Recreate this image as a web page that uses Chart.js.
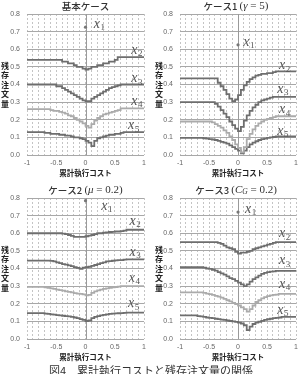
<!DOCTYPE html>
<html>
<head>
<meta charset="utf-8">
<script src="https://cdn.jsdelivr.net/npm/chart.js@4"></script>
<style>
  body { margin: 0; background: #fff; width: 302px; height: 374px; overflow: hidden; position: relative; }
  canvas { position: absolute; }
  #caption { position: absolute; left: 0; top: 362px; width: 302px; text-align: center;
    font: 11px "Noto Sans CJK JP", sans-serif; color: #333; white-space: nowrap; }
</style>
</head>
<body>
<canvas id="c0" width="151" height="184" style="left:0;top:0"></canvas>
<canvas id="c1" width="151" height="184" style="left:151px;top:0"></canvas>
<canvas id="c2" width="151" height="184" style="left:0;top:184px"></canvas>
<canvas id="c3" width="151" height="184" style="left:151px;top:184px"></canvas>
<div id="caption">図4　累計執行コストと残存注文量の関係</div>
<script>
// cumulative execution cost (x axis), one step every 0.05
const cost = [-1, -0.95, -0.9, -0.85, -0.8, -0.75, -0.7, -0.65, -0.6, -0.55, -0.5, -0.45, -0.4, -0.35, -0.3, -0.25, -0.2, -0.15, -0.1, -0.05,
  0, 0.05, 0.1, 0.15, 0.2, 0.25, 0.3, 0.35, 0.4, 0.45, 0.5, 0.55, 0.6, 0.65, 0.7, 0.75, 0.8, 0.85, 0.9, 0.95, 1];

// 基本ケース
const baseX2 = [0.54, 0.54, 0.54, 0.54, 0.54, 0.54, 0.54, 0.54, 0.54, 0.54, 0.54, 0.54, 0.53, 0.53, 0.52, 0.52, 0.51, 0.50, 0.50, 0.49,
  0.485, 0.49, 0.50, 0.50, 0.51, 0.51, 0.52, 0.52, 0.53, 0.53, 0.54, 0.555, 0.555, 0.555, 0.555, 0.555, 0.555, 0.555, 0.555, 0.555, 0.555];
const baseX3 = [0.40, 0.40, 0.40, 0.40, 0.40, 0.40, 0.40, 0.40, 0.40, 0.40, 0.39, 0.39, 0.38, 0.37, 0.36, 0.35, 0.34, 0.33, 0.32, 0.31,
  0.305, 0.305, 0.32, 0.33, 0.34, 0.35, 0.36, 0.37, 0.38, 0.385, 0.39, 0.395, 0.40, 0.40, 0.40, 0.40, 0.40, 0.40, 0.40, 0.40, 0.40];
const baseX4 = [0.26, 0.26, 0.26, 0.26, 0.26, 0.26, 0.26, 0.26, 0.255, 0.25, 0.25, 0.245, 0.24, 0.235, 0.225, 0.22, 0.21, 0.20, 0.19, 0.18,
  0.165, 0.155, 0.175, 0.195, 0.21, 0.22, 0.23, 0.235, 0.24, 0.245, 0.25, 0.255, 0.265, 0.265, 0.265, 0.265, 0.265, 0.265, 0.265, 0.265, 0.265];
const baseX5 = [0.13, 0.13, 0.13, 0.13, 0.13, 0.13, 0.125, 0.125, 0.12, 0.12, 0.12, 0.115, 0.115, 0.11, 0.11, 0.105, 0.10, 0.10, 0.095, 0.09,
  0.08, 0.07, 0.05, 0.08, 0.095, 0.10, 0.105, 0.11, 0.115, 0.115, 0.12, 0.12, 0.125, 0.13, 0.13, 0.13, 0.13, 0.13, 0.13, 0.13, 0.13];

// ケース1 (gamma = 5)
const c1X2 = [0.435, 0.435, 0.435, 0.435, 0.435, 0.435, 0.435, 0.435, 0.435, 0.435, 0.435, 0.435, 0.435, 0.41, 0.39, 0.37, 0.345, 0.32, 0.305, 0.315,
  0.34, 0.37, 0.395, 0.415, 0.43, 0.44, 0.45, 0.455, 0.46, 0.46, 0.465, 0.465, 0.47, 0.475, 0.475, 0.475, 0.475, 0.475, 0.475, 0.475, 0.475];
const c1X3 = [0.30, 0.30, 0.30, 0.30, 0.30, 0.30, 0.30, 0.30, 0.30, 0.30, 0.30, 0.30, 0.29, 0.275, 0.255, 0.235, 0.215, 0.19, 0.17, 0.15,
  0.135, 0.16, 0.195, 0.225, 0.25, 0.27, 0.285, 0.30, 0.31, 0.315, 0.32, 0.325, 0.33, 0.33, 0.33, 0.33, 0.33, 0.33, 0.33, 0.33, 0.33];
const c1X4 = [0.19, 0.19, 0.19, 0.19, 0.19, 0.19, 0.19, 0.19, 0.19, 0.19, 0.19, 0.185, 0.175, 0.165, 0.155, 0.14, 0.125, 0.105, 0.085, 0.06,
  0.04, 0.015, 0.045, 0.09, 0.12, 0.145, 0.165, 0.18, 0.19, 0.20, 0.205, 0.21, 0.215, 0.22, 0.22, 0.22, 0.22, 0.22, 0.22, 0.22, 0.22];
const c1X5 = [0.097, 0.097, 0.097, 0.097, 0.097, 0.097, 0.097, 0.097, 0.095, 0.093, 0.09, 0.088, 0.085, 0.08, 0.075, 0.07, 0.065, 0.055, 0.045, 0.035,
  0.025, 0.01, 0.025, 0.045, 0.06, 0.07, 0.078, 0.085, 0.09, 0.093, 0.097, 0.10, 0.102, 0.105, 0.105, 0.105, 0.105, 0.105, 0.105, 0.105, 0.105];

// ケース2 (mu = 0.2)
const c2X2 = [0.60, 0.60, 0.60, 0.60, 0.60, 0.60, 0.60, 0.60, 0.60, 0.60, 0.60, 0.60, 0.598, 0.595, 0.59, 0.585, 0.58, 0.58, 0.58, 0.58,
  0.583, 0.587, 0.59, 0.595, 0.60, 0.60, 0.603, 0.605, 0.607, 0.608, 0.61, 0.61, 0.612, 0.615, 0.62, 0.62, 0.62, 0.62, 0.62, 0.62, 0.62];
const c2X3 = [0.445, 0.445, 0.445, 0.445, 0.445, 0.445, 0.445, 0.445, 0.443, 0.44, 0.435, 0.43, 0.425, 0.422, 0.418, 0.413, 0.408, 0.403, 0.398, 0.405,
  0.408, 0.41, 0.415, 0.42, 0.425, 0.43, 0.435, 0.44, 0.442, 0.444, 0.446, 0.447, 0.448, 0.45, 0.452, 0.452, 0.452, 0.452, 0.452, 0.452, 0.452];
const c2X4 = [0.296, 0.296, 0.296, 0.296, 0.296, 0.296, 0.293, 0.29, 0.287, 0.284, 0.28, 0.277, 0.274, 0.27, 0.267, 0.264, 0.26, 0.258, 0.256, 0.253,
  0.247, 0.25, 0.262, 0.27, 0.276, 0.28, 0.284, 0.287, 0.29, 0.293, 0.295, 0.297, 0.30, 0.30, 0.30, 0.30, 0.30, 0.30, 0.30, 0.30, 0.30];
const c2X5 = [0.147, 0.147, 0.147, 0.147, 0.147, 0.147, 0.144, 0.142, 0.14, 0.138, 0.136, 0.134, 0.132, 0.13, 0.128, 0.125, 0.122, 0.118, 0.113, 0.108,
  0.102, 0.105, 0.118, 0.125, 0.13, 0.134, 0.137, 0.14, 0.142, 0.144, 0.145, 0.146, 0.147, 0.148, 0.15, 0.15, 0.15, 0.15, 0.15, 0.15, 0.15];

// ケース3 (C_G = 0.2)
const c3X2 = [0.55, 0.55, 0.55, 0.55, 0.55, 0.55, 0.55, 0.55, 0.55, 0.55, 0.55, 0.55, 0.55, 0.545, 0.54, 0.53, 0.52, 0.515, 0.51, 0.495,
  0.485, 0.49, 0.49, 0.495, 0.50, 0.51, 0.515, 0.52, 0.525, 0.53, 0.535, 0.54, 0.545, 0.55, 0.55, 0.55, 0.55, 0.55, 0.55, 0.55, 0.55];
const c3X3 = [0.407, 0.407, 0.407, 0.407, 0.407, 0.407, 0.407, 0.407, 0.405, 0.40, 0.398, 0.393, 0.388, 0.38, 0.372, 0.365, 0.355, 0.345, 0.34, 0.33,
  0.32, 0.31, 0.30, 0.31, 0.325, 0.34, 0.35, 0.36, 0.37, 0.375, 0.38, 0.382, 0.384, 0.386, 0.386, 0.386, 0.386, 0.386, 0.386, 0.386, 0.386];
const c3X4 = [0.265, 0.265, 0.265, 0.265, 0.265, 0.265, 0.265, 0.265, 0.262, 0.258, 0.255, 0.25, 0.245, 0.24, 0.235, 0.228, 0.22, 0.213, 0.205, 0.198,
  0.19, 0.18, 0.17, 0.155, 0.17, 0.19, 0.21, 0.22, 0.23, 0.238, 0.243, 0.248, 0.25, 0.252, 0.256, 0.256, 0.256, 0.256, 0.256, 0.256, 0.256];
const c3X5 = [0.134, 0.134, 0.134, 0.134, 0.134, 0.134, 0.13, 0.128, 0.125, 0.122, 0.12, 0.118, 0.115, 0.113, 0.11, 0.108, 0.105, 0.102, 0.10, 0.097,
  0.093, 0.088, 0.078, 0.05, 0.07, 0.085, 0.093, 0.098, 0.103, 0.108, 0.112, 0.115, 0.118, 0.12, 0.122, 0.126, 0.126, 0.126, 0.126, 0.126, 0.126];

// x1 is a single point at zero cost
const x1Values = [0.725, 0.625, 0.785, 0.72];

const yAxisLabel = '残存注文量';
const xAxisLabel = '累計執行コスト';

const SANS = '"Noto Sans CJK JP", sans-serif';
const SERIF = '"Liberation Serif", "DejaVu Serif", serif';
const DARK = '#6e6e6e';
const LIGHT = '#ababab';

// title pieces: [text, font, dy]
const titles = [
  [['基本ケース', '500 9.5px ' + SANS, 0]],
  [['ケース1 ', '500 9.5px ' + SANS, 0], ['(', '11px ' + SERIF, 0], ['γ', 'italic 11px ' + SERIF, 0], [' = 5)', '11px ' + SERIF, 0]],
  [['ケース2 ', '500 9.5px ' + SANS, 0], ['(', '11px ' + SERIF, 0], ['μ', 'italic 11px ' + SERIF, 0], [' = 0.2)', '11px ' + SERIF, 0]],
  [['ケース3 ', '500 9.5px ' + SANS, 0], ['(', '11px ' + SERIF, 0], ['C', 'italic 11px ' + SERIF, 0], ['G', 'italic 7.5px ' + SERIF, 2],
    [' = 0.2)', '11px ' + SERIF, 0]]
];

// where the x_n labels sit, in data units [cost, amount]; x1 is left-aligned, others centred
const labelSpots = [
  [[0.14, 0.74], [0.875, 0.594], [0.875, 0.433], [0.875, 0.305], [0.82, 0.166]],
  [[0.09, 0.641], [0.8, 0.507], [0.77, 0.374], [0.8, 0.257], [0.77, 0.134]],
  [[0.27, 0.753], [0.845, 0.67], [0.845, 0.493], [0.83, 0.343], [0.82, 0.2]],
  [[0.12, 0.734], [0.8, 0.597], [0.8, 0.444], [0.8, 0.309], [0.77, 0.164]]
];

const series = [
  [baseX2, baseX3, baseX4, baseX5],
  [c1X2, c1X3, c1X4, c1X5],
  [c2X2, c2X3, c2X4, c2X5],
  [c3X2, c3X3, c3X4, c3X5]
];

function drawPieces(ctx, pieces, cx, cy) {
  ctx.textBaseline = 'middle';
  ctx.textAlign = 'left';
  let total = 0;
  pieces.forEach(p => { ctx.font = p[1]; total += ctx.measureText(p[0]).width; });
  let x = cx - total / 2;
  pieces.forEach(p => {
    ctx.font = p[1];
    ctx.fillText(p[0], x, cy + p[2]);
    x += ctx.measureText(p[0]).width;
  });
}

const textPlugin = {
  id: 'texts',
  beforeDatasetsDraw(chart) {
    const { ctx, chartArea, scales } = chart;
    const x0 = scales.x.getPixelForValue(0);
    ctx.save();
    ctx.strokeStyle = '#9a9a9a';
    ctx.lineWidth = 1;
    ctx.beginPath();
    ctx.moveTo(Math.round(x0) + 0.5, chartArea.top);
    ctx.lineTo(Math.round(x0) + 0.5, chartArea.bottom);
    ctx.stroke();
    ctx.restore();
  },
  afterDraw(chart) {
    const { ctx, chartArea, scales } = chart;
    const idx = chart.options.plugins.texts.idx;
    const col = idx % 2;
    ctx.save();
    ctx.fillStyle = '#333';
    // title
    drawPieces(ctx, titles[idx], (chartArea.left + chartArea.right) / 2 + (col ? -2 : 0), chartArea.top - 8);
    // vertical y label, upright characters
    ctx.font = 'bold 8px ' + SANS;
    ctx.fillStyle = '#222';
    ctx.textAlign = 'center';
    ctx.textBaseline = 'middle';
    const mid = (chartArea.top + chartArea.bottom) / 2;
    const chars = Array.from(yAxisLabel);
    chars.forEach((ch, i) => {
      ctx.fillText(ch, col ? 8 : 5, mid + (i - (chars.length - 1) / 2) * 9.5);
    });
    // x label
    ctx.font = 'bold 7.5px ' + SANS;
    ctx.fillText(xAxisLabel, (chartArea.left + chartArea.right) / 2, chartArea.bottom + 18);
    // series labels x_n
    ctx.fillStyle = '#555';
    labelSpots[idx].forEach((s, i) => {
      const px = scales.x.getPixelForValue(s[0]);
      const py = scales.y.getPixelForValue(s[1]);
      ctx.font = 'italic 14px ' + SERIF;
      const w1 = ctx.measureText('x').width;
      ctx.font = '9px ' + SERIF;
      const w2 = ctx.measureText(String(i + 1)).width;
      const left = i === 0 ? px : px - (w1 + w2) / 2;
      ctx.textAlign = 'left';
      ctx.font = 'italic 14px ' + SERIF;
      ctx.fillText('x', left, py);
      ctx.font = '9px ' + SERIF;
      ctx.fillText(String(i + 1), left + w1 + 0.5, py + 3.5);
    });
    ctx.restore();
  }
};

function makeChart(idx) {
  const col = idx % 2;
  const datasets = series[idx].map((vals, i) => ({
    data: cost.map((c, j) => ({ x: c, y: vals[j] })),
    stepped: true,
    borderColor: i === 2 ? LIGHT : DARK,
    borderWidth: 1.8,
    pointRadius: 0,
    fill: false
  }));
  datasets.push({
    data: [{ x: 0, y: x1Values[idx] }],
    showLine: false,
    pointRadius: 1.6,
    pointBackgroundColor: '#777',
    pointBorderWidth: 0
  });
  return new Chart(document.getElementById('c' + idx), {
    type: 'line',
    data: { datasets },
    plugins: [textPlugin],
    options: {
      responsive: false,
      animation: false,
      layout: { padding: { top: 14, right: col ? 4 : 7, left: 0, bottom: 0 } },
      plugins: { legend: { display: false }, tooltip: { enabled: false }, texts: { idx } },
      scales: {
        x: {
          type: 'linear', min: -1, max: 1,
          afterFit: s => { s.height = 29; },
          ticks: {
            stepSize: 0.1, autoSkip: false, maxRotation: 0, padding: 4,
            font: { size: 7, family: 'Liberation Sans' }, color: '#666',
            callback: v => Math.abs(v * 2 - Math.round(v * 2)) < 1e-6 ? String(Math.round(v * 2) / 2) : ''
          },
          grid: { color: '#c4c4c4', lineWidth: 1, drawTicks: false },
          border: { display: false, dash: [2, 2] }
        },
        y: {
          min: 0, max: 0.8,
          afterFit: s => { s.width = col ? 29 : 27; },
          ticks: {
            stepSize: 0.1, padding: 7,
            font: { size: 7, family: 'Liberation Sans' }, color: '#666',
            callback: v => v.toFixed(1)
          },
          grid: { color: '#a8a8a8', lineWidth: 1, drawTicks: false },
          border: { display: false }
        }
      }
    }
  });
}

[0, 1, 2, 3].forEach(makeChart);
</script>
</body>
</html>
